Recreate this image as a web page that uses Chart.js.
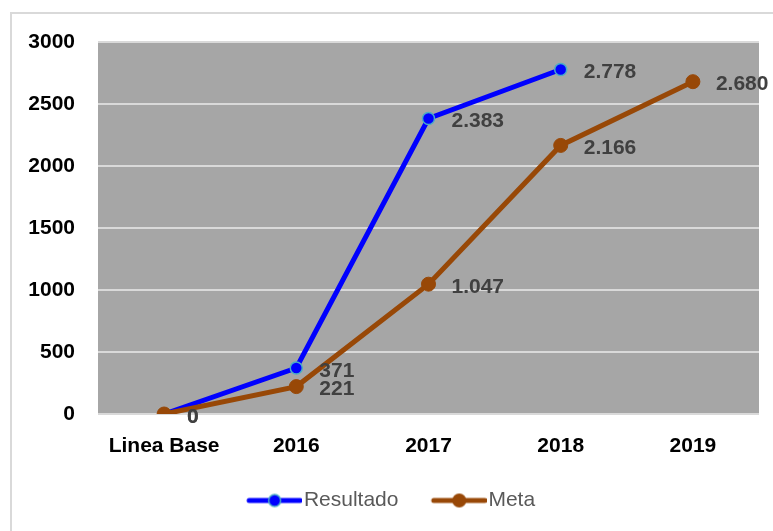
<!DOCTYPE html>
<html>
<head>
<meta charset="utf-8">
<script src="https://cdn.jsdelivr.net/npm/chart.js@4.4.1/dist/chart.umd.min.js"></script>
<style>
  html, body { margin: 0; padding: 0; background: #ffffff; }
  #wrap { position: relative; width: 773px; height: 531px; }
  #frame {
    position: absolute; left: 10px; top: 12px; width: 763px; height: 519px;
    border-left: 2px solid #d9d9d9; border-top: 2px solid #d9d9d9; box-sizing: border-box;
  }
  canvas { position: absolute; left: 0; top: 0; }
</style>
</head>
<body>
<div id="wrap">
  <div id="frame"></div>
  <canvas id="chart" width="773" height="531"></canvas>
</div>
<script>
// Data
const categories = ["Linea Base", "2016", "2017", "2018", "2019"];
const resultado = [0, 371, 2383, 2778, null];
const meta = [0, 221, 1047, 2166, 2680];
const yTicks = [0, 500, 1000, 1500, 2000, 2500, 3000];

const FONT = "'Liberation Sans', Arial, sans-serif";

// thousands separator with a dot, as in the picture
const formatValue = (v) => String(v).replace(/\B(?=(\d{3})+(?!\d))/g, ".");

// Legend icons: line with a dot on it
const makeIcon = (color, radius, border) => {
  const c = document.createElement("canvas");
  c.width = 87;
  c.height = 20;
  const g = c.getContext("2d");
  g.strokeStyle = color;
  g.lineWidth = 5;
  g.lineCap = "round";
  g.beginPath();
  g.moveTo(34, 10);
  g.lineTo(85, 10);
  g.stroke();
  g.beginPath();
  g.arc(59.5, 10, radius, 0, Math.PI * 2);
  g.fillStyle = color;
  g.fill();
  if (border) {
    g.lineWidth = 1.5;
    g.strokeStyle = border;
    g.stroke();
  }
  return c;
};
const legendIcons = [makeIcon("#0000ff", 6, "#4bacc6"), makeIcon("#984807", 7, null)];

// gray plot background
const plotBackground = {
  id: "plotBackground",
  beforeDraw(chart) {
    const { ctx, chartArea } = chart;
    ctx.save();
    ctx.fillStyle = "#a6a6a6";
    ctx.fillRect(chartArea.left, chartArea.top, chartArea.right - chartArea.left, chartArea.bottom - chartArea.top);
    ctx.restore();
  },
};

// value labels to the right of each point
const valueLabels = {
  id: "valueLabels",
  afterDatasetsDraw(chart) {
    const { ctx } = chart;
    ctx.save();
    ctx.font = "bold 21px " + FONT;
    ctx.fillStyle = "#404040";
    ctx.textAlign = "left";
    ctx.textBaseline = "middle";
    chart.data.datasets.forEach((ds, i) => {
      const metaInfo = chart.getDatasetMeta(i);
      metaInfo.data.forEach((pt, j) => {
        const v = ds.data[j];
        if (v === null || v === undefined) return;
        ctx.fillText(formatValue(v), pt.x + 23, pt.y + 3);
      });
    });
    ctx.restore();
  },
};

const ctx = document.getElementById("chart").getContext("2d");

new Chart(ctx, {
  type: "line",
  data: {
    labels: categories,
    datasets: [
      {
        label: "Resultado",
        data: resultado,
        borderColor: "#0000ff",
        backgroundColor: "#0000ff",
        borderWidth: 5,
        pointRadius: 6,
        pointBackgroundColor: "#0000ff",
        pointBorderColor: "#4bacc6",
        pointBorderWidth: 1.5,
        tension: 0,
        order: 1,
      },
      {
        label: "Meta",
        data: meta,
        borderColor: "#984807",
        backgroundColor: "#984807",
        borderWidth: 5,
        pointRadius: 7,
        pointBackgroundColor: "#984807",
        pointBorderColor: "#984807",
        pointBorderWidth: 1,
        tension: 0,
        order: 0,
      },
    ],
  },
  options: {
    responsive: false,
    animation: false,
    layout: {
      padding: { left: 0, right: 14, top: 42, bottom: 10 },
    },
    plugins: {
      tooltip: { enabled: false },
      legend: {
        position: "bottom",
        labels: {
          usePointStyle: true,
          pointStyleWidth: 69.5,
          padding: 10,
          color: "#595959",
          font: { family: FONT, size: 21 },
          sort: (a, b) => a.datasetIndex - b.datasetIndex,
          generateLabels(chart) {
            const items = Chart.defaults.plugins.legend.labels.generateLabels(chart);
            items.forEach((it) => {
              it.pointStyle = legendIcons[it.datasetIndex];
            });
            return items;
          },
        },
      },
    },
    scales: {
      x: {
        offset: true,
        grid: { display: false, drawTicks: false },
        border: { display: false },
        ticks: {
          color: "#000000",
          padding: 20,
          font: { family: FONT, size: 21, weight: "bold" },
        },
        afterFit(scale) {
          scale.height = 66;
        },
      },
      y: {
        min: 0,
        max: 3000,
        afterBuildTicks(scale) {
          scale.ticks = yTicks.map((v) => ({ value: v }));
        },
        grid: { color: "#d9d9d9", lineWidth: 2, drawTicks: false },
        border: { display: false },
        ticks: {
          color: "#000000",
          padding: 23,
          font: { family: FONT, size: 21, weight: "bold" },
          callback: (v) => String(v),
        },
        afterFit(scale) {
          scale.width = 98;
        },
      },
    },
  },
  plugins: [plotBackground, valueLabels],
});
</script>
</body>
</html>
